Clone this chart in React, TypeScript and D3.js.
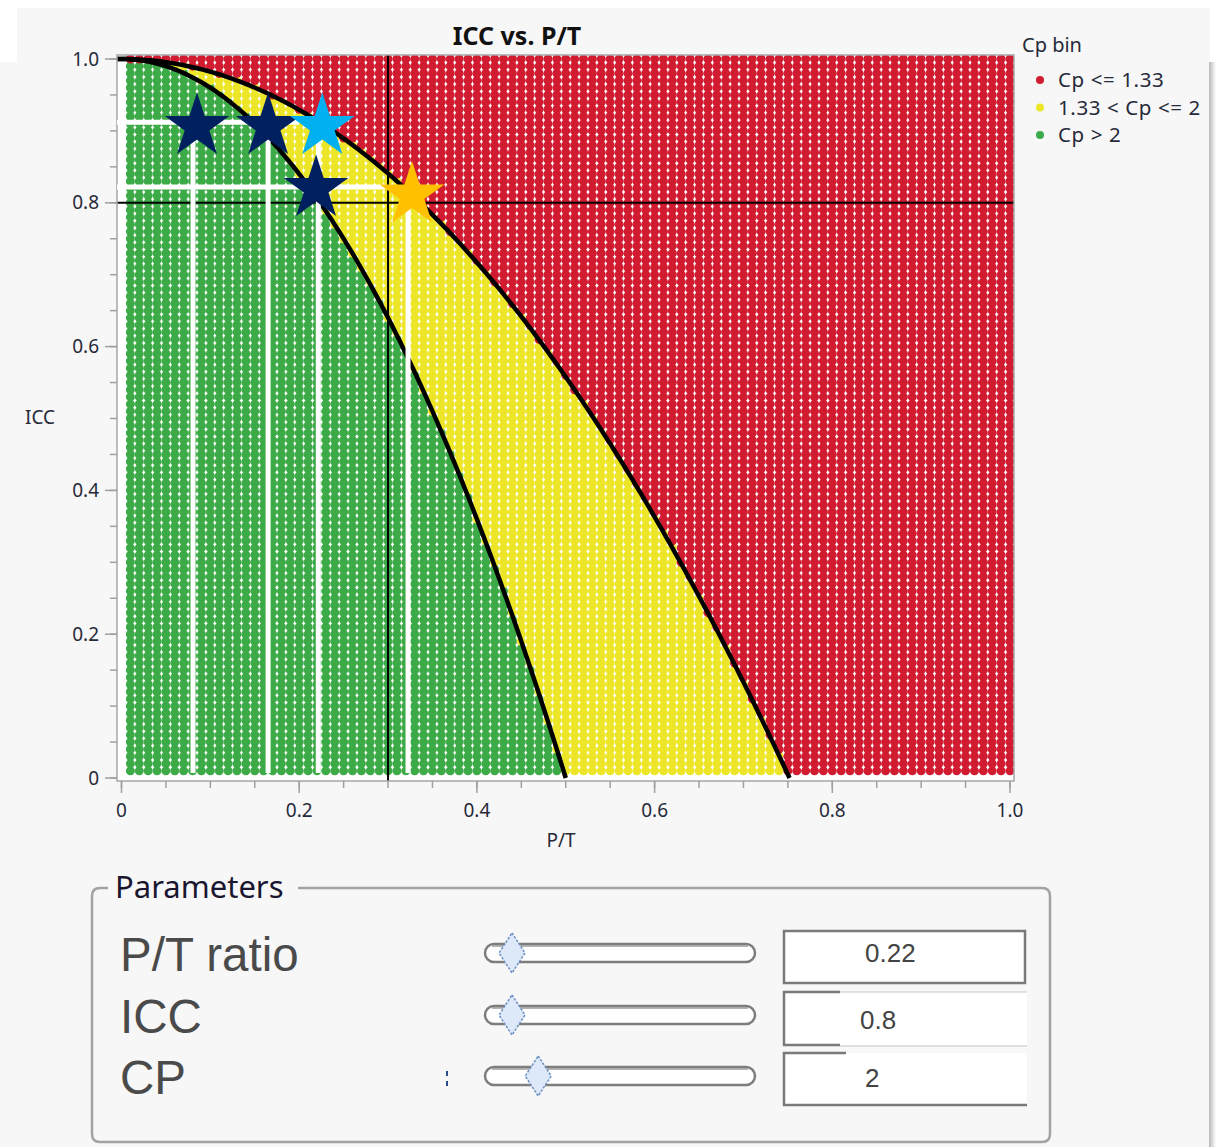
import React from 'react';
import * as d3 from 'd3';

// ---- data ----
const ptGrid: number[] = d3.range(1, 101).map((i) => i / 100);
const iccGrid: number[] = d3.range(1, 101).map((i) => i / 100);
const cpLimits: number[] = [1.33, 2];
const cpBins: string[] = ['Cp <= 1.33', '1.33 < Cp <= 2', 'Cp > 2'];
const cpBinColors: string[] = ['#d11b30', '#ede628', '#3caa47'];
const xTicks: number[] = [0, 0.2, 0.4, 0.6, 0.8, 1.0];
const xTickLabels: string[] = ['0', '0.2', '0.4', '0.6', '0.8', '1.0'];
const yTicks: number[] = [0, 0.2, 0.4, 0.6, 0.8, 1.0];
const yTickLabels: string[] = ['0', '0.2', '0.4', '0.6', '0.8', '1.0'];
const refPT = 0.3;
const refICC = 0.8;
// annotation stars
const starPT: number[] = [0.085, 0.165, 0.226, 0.219, 0.327];
const starICC: number[] = [0.906, 0.906, 0.906, 0.82, 0.811];
const starColors: string[] = ['#002060', '#002060', '#00B0F0', '#002060', '#FFC000'];
// white annotation guide lines
const guideVPT: number[] = [0.0805, 0.165, 0.2215, 0.3225];
const guideVTop: number[] = [0.912, 0.912, 0.9, 0.81];
const guideHICC: number[] = [0.912, 0.822];
const guideHEnd: number[] = [0.2, 0.297];
// parameters panel
const paramLabels: string[] = ['P/T ratio', 'ICC', 'CP'];
const paramValues: string[] = ['0.22', '0.8', '2'];
const sliderFrac: number[] = [0.1, 0.1, 0.197];

const FONT = "'Noto Sans', 'Open Sans', sans-serif";
const ARIAL = "'Liberation Sans', Arial, sans-serif";

function starPath(cx: number, cy: number, R: number): string {
  const r = R * 0.382;
  const pts: string[] = [];
  for (let i = 0; i < 10; i++) {
    const a = -Math.PI / 2 + (i * Math.PI) / 5;
    const rad = i % 2 === 0 ? R : r;
    pts.push(`${(cx + rad * Math.cos(a)).toFixed(2)},${(cy + rad * Math.sin(a)).toFixed(2)}`);
  }
  return 'M' + pts.join('L') + 'Z';
}

export default function App() {
  const W = 1216;
  const H = 1147;
  const x = d3.scaleLinear().domain([0, 1]).range([121.5, 1010]);
  const y = d3.scaleLinear().domain([0, 1]).range([778, 59]);
  const fx0 = 117, fx1 = 1014, fy0 = 55, fy1 = 781;

  const binOf = (pt: number, icc: number) => {
    const cp = Math.sqrt(Math.max(0, 1 - icc)) / pt;
    if (cp <= cpLimits[0]) return 0;
    if (cp <= cpLimits[1]) return 1;
    return 2;
  };

  const dots: JSX.Element[] = [];
  iccGrid.forEach((icc, j) => {
    ptGrid.forEach((pt, i) => {
      dots.push(
        <circle key={`${i}-${j}`} cx={x(pt)} cy={y(icc)} r={4.5} fill={cpBinColors[binOf(pt, icc)]} />
      );
    });
  });

  const line = d3
    .line<[number, number]>()
    .x((d) => x(d[0]))
    .y((d) => y(d[1]));
  const curves = cpLimits.map((cp) => {
    const pts: [number, number][] = d3.range(0, 301).map((k) => {
      const pt = (k / 300) / cp;
      return [pt, 1 - (cp * pt) * (cp * pt)];
    });
    return [[-0.005, 1] as [number, number], ...pts];
  });

  const xMinor = d3.range(0, 21).map((i) => i * 0.05);
  const yMinor = d3.range(0, 21).map((i) => i * 0.05);

  const slider = d3.scaleLinear().domain([0, 1]).range([485, 755]);
  const rowY = [953, 1015, 1076];
  const txtCol = '#262a3a';

  return (
    <svg
      width={W}
      height={H}
      style={{ position: 'absolute', left: 0, top: 0, display: 'block' }}
      xmlns="http://www.w3.org/2000/svg"
    >
      <defs>
        <linearGradient id="shadow" x1="0" x2="1" y1="0" y2="0">
          <stop offset="0" stopColor="#b8b8b8" />
          <stop offset="1" stopColor="#ffffff" />
        </linearGradient>
        <clipPath id="plotclip">
          <rect x={fx0} y={fy0} width={fx1 - fx0} height={fy1 - fy0} />
        </clipPath>
      </defs>
      {/* background */}
      <rect x={0} y={0} width={W} height={H} fill="#f7f7f7" />
      <rect x={0} y={0} width={W} height={8} fill="#ffffff" />
      <rect x={0} y={0} width={17} height={62} fill="#ffffff" />
      <rect x={1210} y={0} width={6} height={H} fill="#ffffff" />
      <rect x={1209} y={62} width={7} height={H - 62} fill="url(#shadow)" />

      {/* title */}
      <text x={517} y={45} textAnchor="middle" fontFamily={FONT} fontWeight="bold" fontSize={25} fill="#111">
        ICC vs. P/T
      </text>

      {/* plot frame */}
      <rect x={fx0} y={fy0} width={fx1 - fx0} height={fy1 - fy0} fill="#ffffff" />
      <g clipPath="url(#plotclip)">
        {dots}
        {/* reference lines */}
        <line x1={x(refPT)} x2={x(refPT)} y1={fy0} y2={fy1} stroke="#000" strokeWidth={2} />
        <line x1={fx0} x2={fx1} y1={y(refICC)} y2={y(refICC)} stroke="#000" strokeWidth={2} />
        {/* Cp boundary curves */}
        {curves.map((c, i) => (
          <path key={i} d={line(c) || ''} fill="none" stroke="#000" strokeWidth={4.5} />
        ))}
      </g>
      <rect x={fx0} y={fy0} width={fx1 - fx0} height={fy1 - fy0} fill="none" stroke="#a6a6a6" strokeWidth={1.5} />

      {/* y axis */}
      {yMinor.map((v, i) => (
        <line key={i} x1={fx0} x2={fx0 - 7} y1={y(v)} y2={y(v)} stroke="#a0a0a0" strokeWidth={1.5} />
      ))}
      {yTicks.map((v, i) => (
        <g key={i}>
          <line x1={fx0} x2={fx0 - 12} y1={y(v)} y2={y(v)} stroke="#a0a0a0" strokeWidth={1.5} />
          <text x={99} y={y(v) + 6.5} textAnchor="end" fontFamily={FONT} fontSize={19} fill={txtCol}>
            {yTickLabels[i]}
          </text>
        </g>
      ))}
      <text x={40} y={424} textAnchor="middle" fontFamily={FONT} fontSize={19} fill={txtCol}>
        ICC
      </text>

      {/* x axis */}
      {xMinor.map((v, i) => (
        <line key={i} x1={x(v)} x2={x(v)} y1={fy1} y2={fy1 + 7} stroke="#a0a0a0" strokeWidth={1.5} />
      ))}
      {xTicks.map((v, i) => (
        <g key={i}>
          <line x1={x(v)} x2={x(v)} y1={fy1} y2={fy1 + 12} stroke="#a0a0a0" strokeWidth={1.5} />
          <text x={x(v)} y={817} textAnchor="middle" fontFamily={FONT} fontSize={19} fill={txtCol}>
            {xTickLabels[i]}
          </text>
        </g>
      ))}
      <text x={561} y={847} textAnchor="middle" fontFamily={FONT} fontSize={19} fill={txtCol}>
        P/T
      </text>

      {/* white guide lines */}
      {guideHICC.map((v, i) => (
        <line key={`h${i}`} x1={fx0} x2={x(guideHEnd[i])} y1={y(v)} y2={y(v)} stroke="#fff" strokeWidth={5} />
      ))}
      {guideVPT.map((v, i) => (
        <line key={`v${i}`} x1={x(v)} x2={x(v)} y1={y(guideVTop[i])} y2={773} stroke="#fff" strokeWidth={5} />
      ))}

      {/* stars */}
      {starPT.map((v, i) => (
        <path key={i} d={starPath(x(v), y(starICC[i]), 34)} fill={starColors[i]} />
      ))}

      {/* legend */}
      <text x={1022} y={52} fontFamily={FONT} fontSize={20} fill={txtCol}>
        Cp bin
      </text>
      {cpBins.map((b, i) => (
        <g key={i}>
          <circle cx={1040} cy={80 + i * 27.5} r={4} fill={cpBinColors[i]} />
          <text x={1058} y={87 + i * 27.5} fontFamily={FONT} fontSize={20.5} fill={txtCol} letterSpacing={0.6}>
            {b}
          </text>
        </g>
      ))}

      {/* parameters group box */}
      <path
        d="M108,888 L100,888 Q92,888 92,896 L92,1134 Q92,1142 100,1142 L1042,1142 Q1050,1142 1050,1134 L1050,896 Q1050,888 1042,888 L298,888"
        fill="none"
        stroke="#a3a3a3"
        strokeWidth={2.5}
      />
      <text x={115} y={898} fontFamily={FONT} fontSize={31} fill="#1a1630">
        Parameters
      </text>
      {paramLabels.map((l, i) => (
        <text key={i} x={120} y={rowY[i] + 18} fontFamily={ARIAL} fontSize={47.5} fill="#4a4a4a">
          {l}
        </text>
      ))}
      {/* stray mark */}
      <rect x={446} y={1071} width={2} height={5} fill="#2b4a8a" />
      <rect x={446} y={1081} width={2} height={5} fill="#2b4a8a" />

      {/* sliders */}
      {rowY.map((cy, i) => {
        const tx = slider(sliderFrac[i]);
        return (
          <g key={i}>
            <rect x={485} y={cy - 9} width={270} height={18} rx={9} fill="#ffffff" stroke="#7d7d7d" strokeWidth={2.5} />
            <line x1={492} x2={748} y1={cy - 7} y2={cy - 7} stroke="#9a9a9a" strokeWidth={1.5} />
            <path
              d={`M${tx},${cy - 20} L${tx + 13},${cy} L${tx},${cy + 20} L${tx - 13},${cy} Z`}
              fill="#dde9f8"
              stroke="#6b90c2"
              strokeWidth={1.5}
              strokeDasharray="2.5,1.5"
            />
          </g>
        );
      })}

      {/* value boxes */}
      <rect x={784} y={931} width={241} height={52} fill="#ffffff" stroke="#7a7a7a" strokeWidth={2.5} />
      <g>
        <rect x={784} y={992} width={243} height={53} fill="#ffffff" />
        <line x1={784} x2={784} y1={991} y2={1046} stroke="#7a7a7a" strokeWidth={2.5} />
        <line x1={783} x2={840} y1={992} y2={992} stroke="#7a7a7a" strokeWidth={2.5} />
        <line x1={840} x2={1027} y1={992} y2={992} stroke="#c9c9c9" strokeWidth={1} />
        <line x1={783} x2={840} y1={1045} y2={1045} stroke="#7a7a7a" strokeWidth={2.5} />
        <line x1={840} x2={1027} y1={1046} y2={1046} stroke="#c9c9c9" strokeWidth={1} />
      </g>
      <g>
        <rect x={784} y={1053} width={243} height={52} fill="#ffffff" />
        <line x1={784} x2={784} y1={1052} y2={1106} stroke="#7a7a7a" strokeWidth={2.5} />
        <line x1={783} x2={846} y1={1053} y2={1053} stroke="#7a7a7a" strokeWidth={2.5} />
        <line x1={783} x2={1027} y1={1105} y2={1105} stroke="#7a7a7a" strokeWidth={2.5} />
      </g>
      {paramValues.map((v, i) => (
        <text key={i} x={i === 1 ? 860 : 865} y={[962, 1029, 1087][i]} fontFamily={ARIAL} fontSize={26} fill="#444">
          {v}
        </text>
      ))}
    </svg>
  );
}
